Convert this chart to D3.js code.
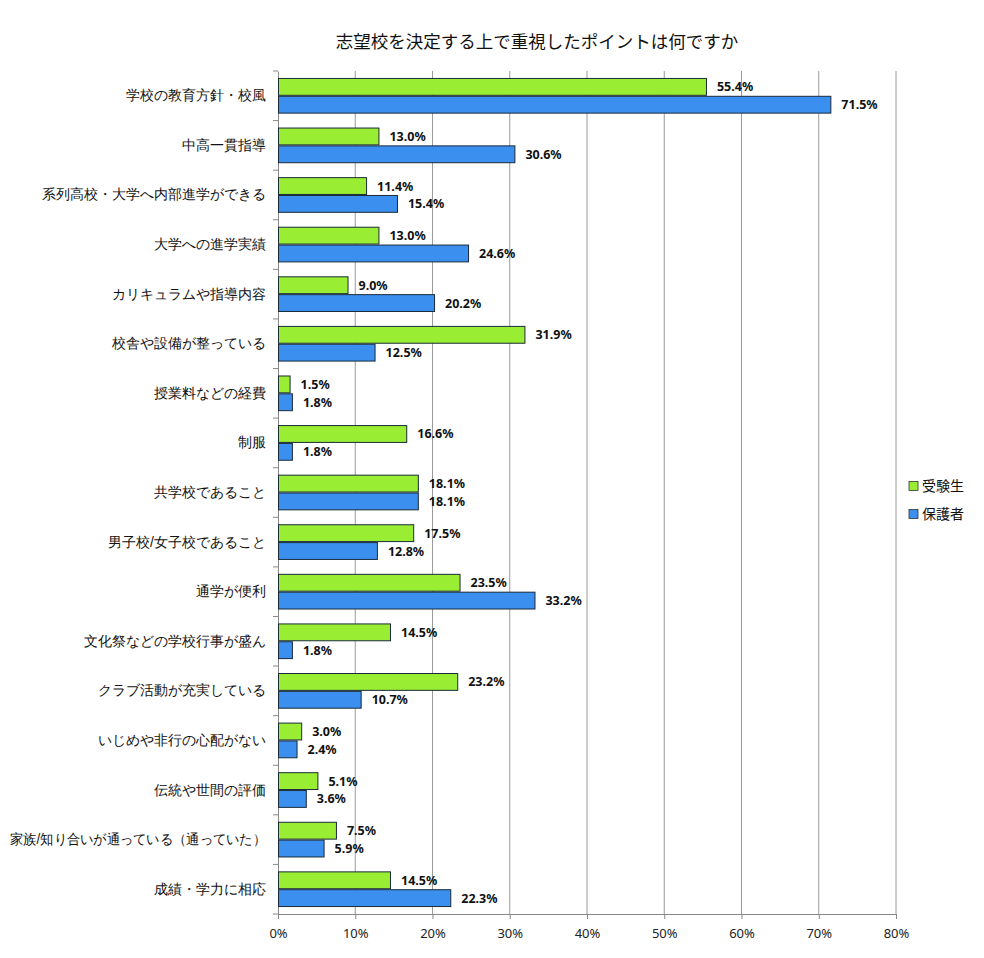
<!DOCTYPE html>
<html><head><meta charset="utf-8">
<script src="https://cdn.jsdelivr.net/npm/d3@7"></script>
<style>
html,body{margin:0;padding:0;background:#fff;}
svg{display:block;font-family:"Noto Sans CJK JP","Noto Sans",sans-serif;}
</style></head>
<body><svg id="chart" width="984" height="958"></svg>
<script>
const title = "志望校を決定する上で重視したポイントは何ですか";
const categories = [
  "学校の教育方針・校風","中高一貫指導","系列高校・大学へ内部進学ができる","大学への進学実績",
  "カリキュラムや指導内容","校舎や設備が整っている","授業料などの経費","制服","共学校であること",
  "男子校/女子校であること","通学が便利","文化祭などの学校行事が盛ん","クラブ活動が充実している",
  "いじめや非行の心配がない","伝統や世間の評価","家族/知り合いが通っている（通っていた）","成績・学力に相応"
];
const seriesNames = ["受験生","保護者"];
const students = [55.4,13.0,11.4,13.0,9.0,31.9,1.5,16.6,18.1,17.5,23.5,14.5,23.2,3.0,5.1,7.5,14.5];
const parents  = [71.5,30.6,15.4,24.6,20.2,12.5,1.8,1.8,18.1,12.8,33.2,1.8,10.7,2.4,3.6,5.9,22.3];
const xTicks = [0,10,20,30,40,50,60,70,80];
const colors = ["#99ee33","#3b8fef"];

const svg = d3.select("#chart");
const mLeft = 278, mRight = 896, mTop = 71, mBottom = 914;

const x = d3.scaleLinear().domain([0,80]).range([mLeft,mRight]);
const y = d3.scaleBand().domain(categories).range([mTop,mBottom]).paddingInner(0).paddingOuter(0);
const sub = d3.scaleBand().domain(seriesNames).range([0,y.bandwidth()]).paddingOuter(0.39).paddingInner(0);

// title
svg.append("text").attr("x",537).attr("y",48).attr("text-anchor","middle")
  .attr("font-size",17.5).attr("fill","#111").text(title);

// gridlines
svg.append("g").selectAll("line").data(xTicks.slice(1)).join("line")
  .attr("x1",d=>x(d)).attr("x2",d=>x(d)).attr("y1",mTop).attr("y2",mBottom)
  .attr("stroke","#9a9a9a").attr("stroke-width",1);

// x axis
const xAxis = svg.append("g").attr("transform",`translate(0,${mBottom})`)
  .call(d3.axisBottom(x).tickValues(xTicks).tickFormat(d=>d+"%").tickSize(5).tickSizeOuter(0));
xAxis.select(".domain").attr("stroke","#888");
xAxis.selectAll(".tick line").attr("stroke","#888");
xAxis.selectAll(".tick text").attr("font-size",13).attr("fill","#222").attr("dy","1.25em")
  .attr("font-family","'Noto Sans','DejaVu Sans',sans-serif");

// y axis
const yAxis = svg.append("g").attr("transform",`translate(${mLeft},0)`)
  .call(d3.axisLeft(y).tickSize(0).tickPadding(12));
yAxis.select(".domain").attr("stroke","#888");
yAxis.selectAll(".tick text").attr("font-size",14).attr("fill","#111")
  .each(function(){
    const w = this.getComputedTextLength();
    if (w > 256) d3.select(this).attr("textLength",256).attr("lengthAdjust","spacingAndGlyphs");
  });
// boundary ticks on y axis
svg.append("g").selectAll("line").data(d3.range(categories.length+1)).join("line")
  .attr("x1",mLeft-5).attr("x2",mLeft)
  .attr("y1",i=>mTop+i*y.step()).attr("y2",i=>mTop+i*y.step())
  .attr("stroke","#888");

// bars
const data = [students,parents];
data.forEach((vals,si)=>{
  const g = svg.append("g");
  g.selectAll("rect").data(vals).join("rect")
    .attr("x",x(0)+0.5)
    .attr("y",(d,i)=>y(categories[i])+sub(seriesNames[si])+0.5)
    .attr("width",d=>x(d)-x(0))
    .attr("height",sub.bandwidth()-1)
    .attr("fill",colors[si]).attr("stroke","#1a2a3a").attr("stroke-width",1);
  g.selectAll("text").data(vals).join("text")
    .attr("x",d=>x(d)+11)
    .attr("y",(d,i)=>y(categories[i])+sub(seriesNames[si])+sub.bandwidth()/2)
    .attr("dy","0.36em")
    .attr("font-size",12.5).attr("font-weight","bold").attr("fill","#111")
    .attr("font-family","'Noto Sans','DejaVu Sans',sans-serif")
    .text(d=>d.toFixed(1)+"%");
});

// legend
const lg = svg.append("g");
seriesNames.forEach((n,i)=>{
  const ly = 486 + i*28;
  lg.append("rect").attr("x",909).attr("y",ly-4.5).attr("width",9).attr("height",9)
    .attr("fill",colors[i]).attr("stroke","#333").attr("stroke-width",0.8);
  lg.append("text").attr("x",922).attr("y",ly).attr("dy","0.36em")
    .attr("font-size",14).attr("fill","#111").text(n);
});
</script></body></html>
